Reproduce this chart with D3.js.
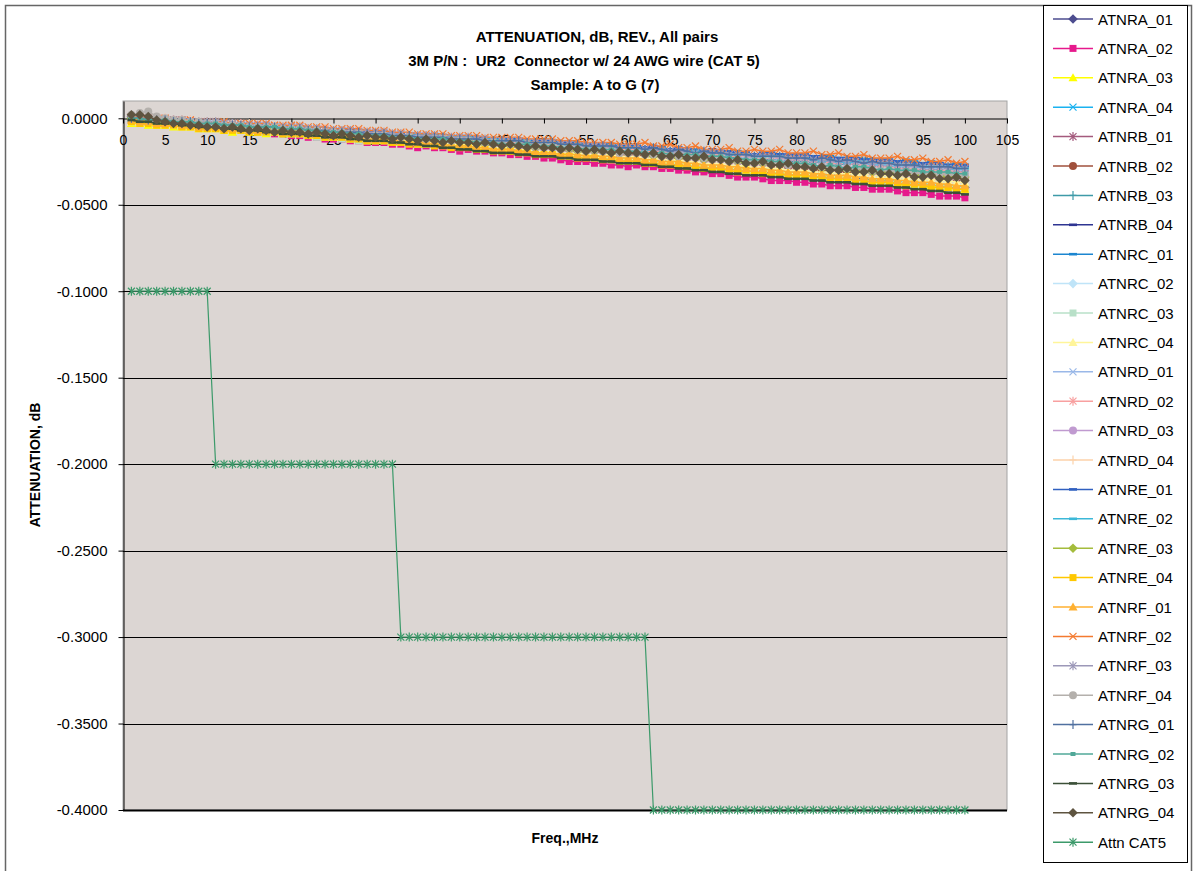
<!DOCTYPE html>
<html lang="en">
<head>
<meta charset="utf-8">
<title>ATTENUATION, dB, REV., All pairs</title>
<script src="https://cdn.jsdelivr.net/npm/d3@7"></script>
<style>
  body { margin: 0; background: #fff; }
  svg text { font-family: "Liberation Sans", Arial, sans-serif; fill: #000; }
</style>
</head>
<body>
<div class="chart"></div>
<script>
// frequency points, MHz
var freqMHz = [
  1,2,3,4,5,6,7,8,9,10,
  11,12,13,14,15,16,17,18,19,20,
  21,22,23,24,25,26,27,28,29,30,
  31,32,33,34,35,36,37,38,39,40,
  41,42,43,44,45,46,47,48,49,50,
  51,52,53,54,55,56,57,58,59,60,
  61,62,63,64,65,66,67,68,69,70,
  71,72,73,74,75,76,77,78,79,80,
  81,82,83,84,85,86,87,88,89,90,
  91,92,93,94,95,96,97,98,99,100];

// attenuation readings, in 0.001 dB
var ATNRA_01 = [
  1,0,-1,-2,-1,-2,-3,-3,-4,-4,
  -4,-5,-5,-6,-6,-6,-7,-7,-8,-8,
  -8,-9,-9,-10,-10,-10,-11,-11,-12,-12,
  -12,-13,-14,-13,-14,-15,-15,-15,-16,-16,
  -16,-17,-17,-18,-18,-18,-19,-19,-20,-20,
  -20,-21,-21,-22,-22,-22,-23,-23,-24,-24,
  -24,-25,-26,-25,-26,-27,-27,-27,-28,-29,
  -28,-29,-29,-30,-30,-30,-31,-31,-32,-32,
  -32,-33,-34,-33,-34,-35,-35,-35,-36,-37,
  -36,-37,-38,-37,-38,-39,-39,-39,-40,-40];
var ATNRA_02 = [
  -1,-2,-2,-3,-3,-3,-4,-4,-5,-5,
  -5,-6,-6,-7,-7,-8,-8,-9,-9,-10,
  -10,-11,-11,-12,-12,-12,-13,-13,-14,-14,
  -14,-15,-15,-16,-17,-16,-17,-17,-18,-19,
  -18,-19,-19,-20,-20,-21,-21,-22,-22,-23,
  -23,-24,-25,-25,-25,-26,-26,-27,-27,-28,
  -27,-28,-28,-29,-29,-30,-30,-31,-31,-32,
  -32,-33,-34,-34,-34,-35,-36,-36,-36,-37,
  -37,-38,-38,-39,-39,-39,-40,-40,-41,-41,
  -41,-42,-43,-43,-43,-44,-45,-45,-45,-46];
var ATNRA_03 = [
  -3,-3,-4,-4,-4,-5,-5,-5,-6,-6,
  -6,-7,-8,-7,-8,-8,-9,-8,-9,-9,
  -9,-10,-10,-11,-11,-11,-12,-12,-13,-13,
  -13,-14,-14,-14,-15,-15,-15,-15,-16,-16,
  -16,-17,-18,-18,-18,-19,-19,-19,-20,-21,
  -20,-21,-21,-22,-22,-22,-23,-23,-24,-24,
  -24,-25,-26,-26,-26,-27,-27,-28,-28,-28,
  -28,-29,-29,-30,-30,-30,-31,-31,-32,-32,
  -32,-33,-34,-34,-34,-35,-36,-36,-36,-37,
  -37,-38,-38,-39,-39,-39,-40,-40,-41,-41];
var ATNRA_04 = [
  0,0,-1,-1,-1,-2,-2,-2,-3,-3,
  -3,-4,-4,-4,-5,-5,-5,-5,-6,-6,
  -6,-7,-8,-7,-8,-8,-9,-8,-9,-9,
  -9,-10,-10,-10,-11,-11,-11,-11,-12,-12,
  -12,-13,-13,-13,-14,-14,-14,-14,-15,-15,
  -15,-16,-15,-16,-17,-17,-18,-17,-18,-18,
  -18,-19,-19,-19,-20,-20,-20,-20,-21,-21,
  -21,-22,-22,-22,-23,-23,-23,-23,-24,-24,
  -24,-25,-24,-25,-26,-26,-27,-26,-27,-27,
  -27,-28,-27,-28,-29,-29,-30,-29,-30,-30];
var ATNRB_01 = [
  1,0,0,-1,-1,-1,-2,-2,-3,-3,
  -3,-4,-4,-4,-5,-5,-5,-5,-6,-6,
  -6,-7,-7,-8,-8,-8,-9,-9,-10,-10,
  -10,-10,-11,-12,-11,-12,-12,-13,-13,-13,
  -13,-14,-14,-14,-15,-15,-15,-15,-16,-16,
  -16,-17,-17,-17,-18,-18,-18,-18,-19,-19,
  -19,-20,-21,-20,-20,-21,-22,-21,-22,-22,
  -22,-23,-23,-24,-24,-24,-25,-25,-26,-26,
  -26,-27,-27,-27,-28,-28,-28,-28,-29,-29,
  -29,-29,-30,-31,-30,-31,-32,-31,-32,-32];
var ATNRB_02 = [
  0,-1,-1,-2,-2,-2,-3,-3,-4,-4,
  -4,-5,-5,-5,-6,-6,-6,-6,-7,-7,
  -7,-8,-8,-9,-9,-9,-10,-10,-11,-11,
  -11,-12,-12,-12,-13,-13,-13,-13,-14,-14,
  -14,-15,-16,-15,-16,-16,-17,-16,-17,-17,
  -17,-18,-18,-19,-19,-19,-20,-20,-21,-21,
  -21,-22,-22,-22,-23,-23,-23,-23,-24,-24,
  -24,-25,-25,-26,-26,-26,-27,-27,-28,-28,
  -28,-29,-30,-29,-30,-31,-30,-30,-31,-31,
  -31,-32,-32,-33,-33,-33,-34,-34,-35,-35];
var ATNRB_03 = [
  0,0,-1,-1,-1,-2,-2,-2,-3,-3,
  -3,-4,-3,-4,-5,-5,-4,-5,-6,-6,
  -6,-7,-7,-7,-8,-8,-8,-8,-9,-9,
  -9,-10,-10,-10,-11,-11,-11,-11,-12,-12,
  -12,-13,-13,-13,-14,-14,-14,-14,-15,-15,
  -15,-16,-17,-16,-17,-16,-17,-18,-18,-18,
  -18,-19,-19,-20,-20,-20,-21,-21,-22,-22,
  -22,-23,-23,-23,-24,-24,-24,-24,-25,-25,
  -25,-26,-25,-26,-27,-26,-27,-28,-28,-27,
  -28,-29,-29,-29,-30,-30,-30,-30,-31,-31];
var ATNRB_04 = [
  0,0,-1,-1,-1,-2,-2,-2,-3,-3,
  -3,-4,-4,-4,-5,-5,-5,-5,-6,-6,
  -6,-6,-7,-7,-7,-7,-7,-8,-8,-8,
  -8,-9,-9,-9,-10,-10,-10,-10,-11,-11,
  -11,-12,-12,-12,-13,-13,-13,-13,-14,-14,
  -14,-14,-15,-15,-15,-15,-15,-16,-16,-16,
  -16,-17,-16,-17,-18,-17,-18,-18,-19,-18,
  -19,-20,-20,-20,-21,-21,-21,-21,-22,-22,
  -22,-23,-23,-23,-24,-24,-24,-24,-25,-25,
  -25,-26,-25,-26,-27,-26,-27,-28,-27,-28];
var ATNRC_01 = [
  0,0,-1,-1,-1,-2,-2,-2,-3,-3,
  -3,-3,-4,-4,-4,-4,-4,-5,-5,-5,
  -5,-6,-6,-6,-7,-7,-7,-7,-8,-8,
  -8,-9,-9,-9,-10,-10,-10,-10,-11,-11,
  -11,-11,-12,-12,-12,-12,-12,-13,-13,-13,
  -13,-14,-14,-14,-15,-15,-15,-15,-16,-16,
  -16,-17,-17,-17,-18,-18,-18,-18,-19,-19,
  -19,-20,-19,-20,-21,-20,-20,-21,-22,-21,
  -21,-22,-22,-22,-23,-23,-23,-23,-24,-24,
  -24,-25,-24,-25,-26,-25,-26,-27,-26,-27];
var ATNRC_02 = [
  -1,-1,-2,-2,-2,-3,-3,-3,-4,-4,
  -4,-5,-5,-5,-6,-6,-6,-6,-7,-7,
  -7,-8,-8,-8,-9,-9,-9,-9,-10,-10,
  -10,-11,-11,-11,-12,-12,-12,-12,-13,-13,
  -13,-14,-14,-14,-15,-15,-15,-15,-16,-16,
  -16,-17,-17,-18,-18,-18,-19,-19,-20,-20,
  -20,-21,-21,-21,-22,-22,-22,-22,-23,-23,
  -23,-24,-24,-24,-25,-25,-25,-25,-26,-26,
  -26,-27,-27,-27,-28,-28,-28,-28,-29,-29,
  -29,-30,-30,-31,-31,-31,-32,-32,-33,-33];
var ATNRC_03 = [
  -2,-2,-3,-3,-3,-4,-4,-4,-5,-5,
  -5,-6,-6,-7,-7,-7,-8,-8,-9,-9,
  -9,-10,-11,-11,-11,-12,-12,-13,-13,-13,
  -13,-14,-14,-14,-15,-15,-15,-15,-16,-16,
  -16,-17,-17,-18,-18,-18,-19,-19,-20,-20,
  -20,-21,-22,-22,-22,-23,-23,-24,-24,-24,
  -24,-25,-25,-26,-26,-26,-27,-27,-28,-28,
  -28,-29,-29,-30,-30,-30,-31,-31,-32,-32,
  -32,-33,-34,-34,-34,-35,-35,-36,-36,-37,
  -36,-37,-37,-38,-38,-38,-39,-39,-40,-40];
var ATNRC_04 = [
  -2,-2,-3,-3,-3,-4,-4,-4,-5,-5,
  -5,-6,-6,-6,-7,-7,-7,-7,-8,-8,
  -8,-9,-9,-10,-10,-10,-11,-11,-12,-12,
  -12,-13,-13,-13,-14,-14,-14,-14,-15,-15,
  -15,-16,-16,-17,-17,-17,-18,-18,-19,-19,
  -19,-20,-20,-20,-21,-21,-21,-21,-22,-22,
  -22,-23,-23,-24,-24,-24,-25,-25,-26,-26,
  -26,-27,-27,-28,-28,-28,-29,-29,-30,-30,
  -30,-31,-31,-31,-32,-32,-32,-32,-33,-33,
  -33,-34,-34,-35,-35,-35,-36,-36,-37,-37];
var ATNRD_01 = [
  0,-1,-1,-1,-2,-1,-2,-2,-3,-3,
  -3,-4,-4,-5,-5,-5,-5,-6,-6,-6,
  -6,-7,-7,-8,-8,-8,-8,-9,-9,-9,
  -9,-10,-10,-11,-11,-11,-11,-12,-12,-12,
  -12,-13,-13,-14,-14,-14,-14,-15,-15,-15,
  -15,-16,-16,-17,-17,-17,-17,-18,-18,-18,
  -18,-19,-19,-20,-20,-20,-20,-21,-21,-21,
  -21,-22,-22,-23,-23,-23,-23,-24,-24,-24,
  -24,-25,-25,-26,-26,-26,-26,-27,-27,-27,
  -27,-28,-28,-29,-29,-29,-29,-30,-30,-30];
var ATNRD_02 = [
  1,1,0,0,0,-1,-1,-1,-2,-2,
  -2,-3,-3,-3,-4,-4,-4,-4,-5,-5,
  -5,-6,-6,-6,-7,-7,-7,-7,-8,-8,
  -8,-9,-9,-10,-10,-10,-11,-11,-12,-12,
  -12,-13,-13,-13,-14,-14,-14,-14,-15,-15,
  -15,-16,-16,-16,-17,-17,-17,-17,-18,-18,
  -18,-19,-19,-19,-20,-20,-20,-20,-21,-21,
  -21,-22,-22,-22,-23,-23,-23,-23,-24,-24,
  -24,-25,-25,-26,-26,-26,-27,-27,-28,-28,
  -28,-29,-29,-29,-30,-30,-30,-30,-31,-31];
var ATNRD_03 = [
  0,0,-1,-1,-1,-2,-2,-2,-3,-3,
  -3,-4,-4,-5,-5,-5,-6,-6,-7,-7,
  -7,-8,-8,-8,-9,-9,-9,-9,-10,-10,
  -10,-11,-11,-11,-12,-12,-12,-12,-13,-13,
  -13,-14,-14,-15,-15,-15,-16,-16,-17,-17,
  -17,-18,-18,-18,-19,-19,-19,-19,-20,-20,
  -20,-21,-21,-22,-22,-22,-23,-23,-24,-24,
  -24,-25,-25,-25,-26,-26,-26,-26,-27,-27,
  -27,-28,-28,-29,-29,-29,-30,-30,-31,-31,
  -31,-32,-32,-32,-33,-33,-33,-33,-34,-34];
var ATNRD_04 = [
  1,1,0,0,0,-1,-1,-1,-2,-2,
  -2,-2,-3,-4,-3,-4,-5,-4,-5,-5,
  -5,-6,-6,-6,-7,-7,-7,-7,-8,-8,
  -8,-9,-9,-9,-10,-10,-10,-10,-11,-11,
  -11,-12,-12,-12,-13,-13,-13,-13,-14,-14,
  -14,-15,-15,-15,-16,-16,-16,-16,-17,-17,
  -17,-18,-18,-18,-19,-19,-19,-19,-20,-20,
  -20,-20,-21,-22,-21,-22,-23,-22,-23,-23,
  -23,-24,-24,-24,-25,-25,-25,-25,-26,-26,
  -26,-27,-27,-27,-28,-28,-28,-28,-29,-29];
var ATNRE_01 = [
  0,-1,-1,-1,-2,-2,-2,-2,-3,-3,
  -3,-3,-4,-4,-4,-5,-4,-5,-5,-5,
  -5,-6,-6,-7,-7,-7,-7,-8,-8,-8,
  -8,-9,-9,-10,-10,-10,-10,-11,-11,-11,
  -11,-11,-12,-12,-13,-12,-12,-13,-13,-13,
  -13,-14,-14,-15,-15,-15,-15,-16,-16,-16,
  -16,-17,-17,-18,-18,-18,-18,-19,-19,-19,
  -19,-19,-20,-20,-21,-20,-20,-21,-21,-21,
  -21,-22,-22,-23,-23,-23,-23,-24,-24,-24,
  -24,-25,-25,-26,-26,-26,-26,-27,-27,-27];
var ATNRE_02 = [
  0,0,-1,-1,-1,-2,-2,-2,-3,-3,
  -3,-4,-4,-4,-5,-5,-5,-5,-6,-6,
  -6,-7,-7,-7,-8,-8,-8,-8,-9,-9,
  -9,-9,-10,-10,-10,-10,-10,-11,-11,-11,
  -11,-12,-12,-12,-13,-13,-13,-13,-14,-14,
  -14,-15,-16,-15,-16,-17,-16,-16,-17,-17,
  -17,-18,-18,-18,-19,-19,-19,-19,-20,-20,
  -20,-21,-21,-21,-22,-22,-22,-22,-23,-23,
  -23,-24,-25,-24,-25,-26,-25,-25,-26,-26,
  -26,-27,-27,-27,-28,-28,-28,-28,-29,-29];
var ATNRE_03 = [
  0,-1,-1,-1,-2,-2,-2,-3,-3,-3,
  -3,-4,-5,-5,-5,-6,-6,-6,-7,-7,
  -7,-8,-8,-9,-9,-9,-9,-10,-10,-10,
  -10,-11,-11,-12,-12,-12,-12,-13,-13,-13,
  -13,-14,-15,-15,-15,-16,-16,-16,-17,-17,
  -17,-18,-18,-19,-19,-19,-19,-20,-20,-20,
  -20,-21,-22,-22,-22,-23,-23,-23,-24,-24,
  -24,-25,-25,-26,-26,-26,-26,-27,-27,-27,
  -27,-28,-29,-29,-29,-30,-30,-30,-31,-31,
  -31,-32,-32,-33,-33,-33,-33,-34,-34,-34];
var ATNRE_04 = [
  -2,-3,-3,-4,-4,-4,-5,-5,-6,-6,
  -6,-7,-7,-7,-8,-8,-8,-8,-9,-9,
  -9,-10,-10,-11,-11,-11,-12,-12,-13,-13,
  -13,-14,-14,-15,-15,-15,-16,-16,-17,-17,
  -17,-18,-18,-19,-19,-19,-20,-20,-21,-21,
  -21,-22,-22,-23,-23,-23,-24,-24,-25,-25,
  -25,-26,-26,-27,-27,-27,-28,-28,-29,-29,
  -29,-30,-31,-30,-31,-32,-32,-32,-33,-33,
  -33,-34,-34,-35,-35,-35,-36,-36,-37,-37,
  -37,-38,-39,-38,-39,-40,-40,-40,-41,-41];
var ATNRF_01 = [
  -1,-2,-2,-3,-3,-3,-4,-4,-5,-5,
  -5,-6,-6,-6,-7,-7,-7,-7,-8,-8,
  -8,-9,-9,-10,-10,-10,-11,-11,-12,-12,
  -12,-13,-13,-14,-14,-14,-15,-15,-16,-16,
  -16,-17,-17,-18,-18,-18,-19,-19,-20,-20,
  -20,-21,-21,-21,-22,-22,-22,-22,-23,-23,
  -23,-24,-24,-25,-25,-25,-26,-26,-27,-27,
  -27,-28,-28,-29,-29,-29,-30,-30,-31,-31,
  -31,-32,-32,-33,-33,-33,-34,-34,-35,-35,
  -35,-36,-36,-37,-37,-37,-38,-38,-39,-39];
var ATNRF_02 = [
  1,1,0,0,0,-1,-1,-1,-2,-2,
  -2,-2,-3,-3,-3,-3,-3,-4,-4,-4,
  -4,-5,-5,-5,-6,-6,-6,-6,-7,-7,
  -7,-8,-8,-8,-9,-9,-9,-9,-10,-10,
  -10,-10,-11,-11,-11,-11,-11,-12,-12,-12,
  -12,-13,-13,-13,-14,-14,-14,-14,-15,-15,
  -15,-14,-16,-16,-15,-17,-17,-16,-18,-18,
  -18,-17,-19,-19,-18,-19,-19,-18,-20,-20,
  -20,-19,-21,-21,-20,-22,-22,-21,-23,-23,
  -23,-22,-24,-24,-23,-25,-25,-24,-26,-25];
var ATNRF_03 = [
  1,0,0,0,-1,-1,-1,-2,-2,-2,
  -2,-3,-3,-4,-4,-4,-4,-5,-5,-5,
  -5,-6,-6,-7,-7,-7,-7,-8,-8,-8,
  -8,-9,-9,-10,-10,-10,-10,-11,-11,-11,
  -11,-12,-12,-13,-13,-13,-13,-14,-14,-14,
  -14,-15,-15,-16,-16,-16,-16,-17,-17,-17,
  -17,-18,-18,-19,-19,-19,-19,-20,-20,-20,
  -20,-21,-21,-22,-22,-22,-22,-23,-23,-23,
  -23,-24,-24,-25,-25,-25,-25,-26,-26,-26,
  -26,-27,-27,-28,-28,-28,-28,-29,-29,-29];
var ATNRF_04 = [
  2,3,4,1,0,-1,-1,-2,-2,-3,
  -3,-4,-4,-4,-5,-5,-5,-5,-6,-6,
  -6,-7,-7,-8,-8,-8,-9,-9,-10,-10,
  -10,-11,-11,-11,-12,-12,-12,-12,-13,-13,
  -13,-14,-14,-14,-15,-15,-15,-15,-16,-16,
  -16,-17,-17,-18,-18,-18,-19,-19,-20,-20,
  -20,-21,-21,-21,-22,-22,-22,-22,-23,-23,
  -23,-24,-24,-25,-25,-25,-26,-26,-27,-27,
  -27,-28,-28,-28,-29,-29,-29,-29,-30,-30,
  -30,-31,-31,-31,-32,-32,-32,-32,-33,-33];
var ATNRG_01 = [
  0,0,-1,-1,-1,-2,-2,-2,-3,-3,
  -3,-4,-4,-4,-5,-5,-5,-5,-6,-6,
  -6,-7,-7,-7,-8,-8,-8,-8,-9,-9,
  -9,-10,-10,-10,-11,-11,-11,-11,-12,-12,
  -12,-12,-13,-13,-13,-13,-13,-14,-14,-14,
  -14,-15,-15,-15,-16,-16,-16,-16,-17,-17,
  -17,-18,-17,-18,-19,-18,-19,-20,-19,-20,
  -20,-21,-21,-21,-22,-22,-22,-22,-23,-23,
  -23,-24,-23,-24,-25,-24,-25,-26,-25,-26,
  -26,-27,-27,-27,-28,-28,-28,-28,-29,-29];
var ATNRG_02 = [
  0,0,-1,-1,-1,-2,-2,-2,-3,-3,
  -3,-4,-4,-4,-5,-5,-5,-5,-6,-6,
  -6,-7,-7,-8,-8,-8,-9,-9,-10,-10,
  -10,-11,-11,-11,-12,-12,-12,-12,-13,-13,
  -13,-14,-14,-14,-15,-15,-15,-15,-16,-16,
  -16,-17,-17,-17,-18,-18,-18,-18,-19,-19,
  -19,-20,-20,-20,-21,-21,-21,-21,-22,-22,
  -22,-23,-23,-24,-24,-24,-25,-25,-26,-26,
  -26,-27,-28,-27,-28,-29,-28,-28,-29,-30,
  -29,-30,-30,-30,-31,-31,-31,-31,-32,-32];
var ATNRG_03 = [
  -1,-2,-2,-3,-3,-3,-4,-4,-5,-5,
  -5,-6,-6,-7,-7,-7,-8,-8,-9,-9,
  -9,-10,-10,-11,-11,-11,-12,-12,-13,-13,
  -13,-14,-14,-15,-15,-16,-16,-17,-17,-18,
  -18,-19,-19,-20,-20,-20,-21,-21,-22,-22,
  -22,-23,-23,-24,-24,-24,-25,-25,-26,-26,
  -26,-27,-27,-28,-28,-29,-29,-30,-30,-31,
  -31,-32,-32,-33,-33,-33,-34,-34,-35,-35,
  -35,-36,-36,-37,-37,-37,-38,-38,-39,-39,
  -39,-40,-40,-41,-41,-42,-42,-43,-43,-44];
var ATNRG_04 = [
  2,2,1,-1,-2,-3,-3,-4,-4,-5,
  -5,-6,-5,-6,-7,-6,-7,-8,-7,-8,
  -8,-9,-8,-9,-10,-9,-10,-11,-10,-11,
  -11,-12,-11,-12,-13,-12,-13,-14,-13,-14,
  -14,-15,-14,-15,-16,-15,-16,-17,-16,-17,
  -17,-18,-17,-18,-19,-18,-19,-20,-19,-20,
  -20,-21,-20,-22,-22,-21,-23,-23,-22,-24,
  -24,-25,-24,-26,-26,-25,-27,-27,-26,-28,
  -28,-29,-28,-30,-30,-29,-31,-31,-30,-32,
  -32,-33,-32,-34,-34,-33,-35,-35,-34,-36];
// CAT 5 limit, in 0.001 dB
var attnCAT5 = [
  -100,-100,-100,-100,-100,-100,-100,-100,-100,-100,
  -200,-200,-200,-200,-200,-200,-200,-200,-200,-200,
  -200,-200,-200,-200,-200,-200,-200,-200,-200,-200,
  -200,-200,-300,-300,-300,-300,-300,-300,-300,-300,
  -300,-300,-300,-300,-300,-300,-300,-300,-300,-300,
  -300,-300,-300,-300,-300,-300,-300,-300,-300,-300,
  -300,-300,-400,-400,-400,-400,-400,-400,-400,-400,
  -400,-400,-400,-400,-400,-400,-400,-400,-400,-400,
  -400,-400,-400,-400,-400,-400,-400,-400,-400,-400,
  -400,-400,-400,-400,-400,-400,-400,-400,-400,-400];

var seriesNames = ["ATNRA_01","ATNRA_02","ATNRA_03","ATNRA_04","ATNRB_01","ATNRB_02","ATNRB_03","ATNRB_04",
                   "ATNRC_01","ATNRC_02","ATNRC_03","ATNRC_04","ATNRD_01","ATNRD_02","ATNRD_03","ATNRD_04",
                   "ATNRE_01","ATNRE_02","ATNRE_03","ATNRE_04","ATNRF_01","ATNRF_02","ATNRF_03","ATNRF_04",
                   "ATNRG_01","ATNRG_02","ATNRG_03","ATNRG_04","Attn CAT5"];
var seriesValues = [ATNRA_01, ATNRA_02, ATNRA_03, ATNRA_04, ATNRB_01, ATNRB_02, ATNRB_03, ATNRB_04,
                    ATNRC_01, ATNRC_02, ATNRC_03, ATNRC_04, ATNRD_01, ATNRD_02, ATNRD_03, ATNRD_04,
                    ATNRE_01, ATNRE_02, ATNRE_03, ATNRE_04, ATNRF_01, ATNRF_02, ATNRF_03, ATNRF_04,
                    ATNRG_01, ATNRG_02, ATNRG_03, ATNRG_04, attnCAT5];
var seriesColors = ["#4d4d8f","#e6198c","#ffff00","#1ab2f0","#a45a7d","#a0503c","#3e9aa8","#2e3592",
                    "#1c86d0","#bfe4f8","#b8e0c8","#fff59a","#9ab8e8","#f8a0a0","#c09ad0","#fcd2aa",
                    "#3060c0","#3cb8d8","#a4bc3c","#ffc800","#ffb030","#f47a30","#9c98b8","#b4b0ac",
                    "#5070a0","#50a898","#3c5038","#5e5440","#3c9a6a"];
var seriesMarkers = ["diamond","square","triangle","x","star","circle","plus","dash",
                     "dash","diamond","square","triangle","x","star","circle","plus",
                     "dash","dash","diamond","square","triangle","x","star","circle",
                     "plus","smallsquare","dash","diamond","star"];

var xTicks = [0,5,10,15,20,25,30,35,40,45,50,55,60,65,70,75,80,85,90,95,100,105];
var yTicks = [0, -0.05, -0.1, -0.15, -0.2, -0.25, -0.3, -0.35, -0.4];

// drawing
var w = 1194, h = 871;
var svg = d3.select("div.chart").append("svg")
            .attr("width", w)
            .attr("height", h);

// outer chart frame
svg.append("rect")
   .attr("x", 5.5).attr("y", 5.5)
   .attr("width", 1186).attr("height", 880)
   .attr("fill", "#fff").attr("stroke", "#666").attr("stroke-width", 1.5);

// plot area
var pLeft = 123, pRight = 1007, pTop = 101, pBottom = 810;
var xScale = d3.scaleLinear().domain([0, 105]).range([pLeft, pRight]);
var yScale = d3.scaleLinear().domain([-0.4, 0.01]).range([pBottom, pTop]);

svg.append("rect")
   .attr("x", pLeft).attr("y", pTop)
   .attr("width", pRight - pLeft).attr("height", pBottom - pTop)
   .attr("fill", "#dcd6d3").attr("stroke", "#a4a4a4");

// gridlines
svg.append("g").selectAll("line")
   .data(yTicks.filter(function(d){ return d !== 0; }))
   .enter().append("line")
   .attr("x1", pLeft).attr("x2", pRight)
   .attr("y1", function(d){ return Math.round(yScale(d)) + 0.5; })
   .attr("y2", function(d){ return Math.round(yScale(d)) + 0.5; })
   .attr("stroke", "#000")
   .attr("stroke-width", function(d){ return d === -0.4 ? 2 : 1; });

// axes
var xAxis = d3.axisBottom(xScale).tickValues(xTicks)
              .tickSizeInner(5).tickSizeOuter(0).tickPadding(12);
var yAxis = d3.axisLeft(yScale).tickValues(yTicks)
              .tickFormat(function(d){ return d.toFixed(4); })
              .tickSizeInner(5).tickSizeOuter(0).tickPadding(11);

var gx = svg.append("g")
   .attr("transform", "translate(0," + (Math.round(yScale(0)) + 0.5) + ")")
   .call(xAxis);
var gy = svg.append("g")
   .attr("transform", "translate(" + (pLeft + 0.5) + ",0)")
   .call(yAxis);
[gx, gy].forEach(function(g){
    g.attr("font-family", null).attr("font-size", null);
    g.selectAll("path, line").attr("stroke", "#000");
});
gx.selectAll("text").style("font-size", "14px");
gy.selectAll("text").style("font-size", "15px");

// marker shapes
function markerPath(type) {
    switch (type) {
        case "diamond": return "M0,-4.8L4.8,0L0,4.8L-4.8,0Z";
        case "square": return "M-3.5,-3.5H3.5V3.5H-3.5Z";
        case "smallsquare": return "M-2.5,-2H2.5V2H-2.5Z";
        case "triangle": return "M0,-4.5L4.5,3.5H-4.5Z";
        case "x": return "M-3.5,-3.5L3.5,3.5M-3.5,3.5L3.5,-3.5";
        case "star": return "M-3.5,-3.5L3.5,3.5M-3.5,3.5L3.5,-3.5M0,-4.5V4.5";
        case "circle": return "M4,0A4,4 0 1,1 -4,0A4,4 0 1,1 4,0Z";
        case "plus": return "M0,-4.5V4.5M-3.5,0H3.5";
        case "dash": return "M-4,-1.3H4V1.3H-4Z";
    }
}
function isOpen(type) { return type === "x" || type === "star" || type === "plus"; }

function drawMarker(g, type, color) {
    g.attr("d", markerPath(type))
     .attr("fill", isOpen(type) ? "none" : color)
     .attr("stroke", isOpen(type) ? color : "none")
     .attr("stroke-width", 1.2);
}

// series
var line = d3.line()
             .x(function(d, i){ return xScale(freqMHz[i]); })
             .y(function(d){ return yScale(d / 1000); });

seriesValues.forEach(function(vals, s){
    var color = seriesColors[s];
    var g = svg.append("g").attr("class", "series");
    g.append("path")
     .datum(vals)
     .attr("d", line)
     .attr("fill", "none")
     .attr("stroke", color)
     .attr("stroke-width", s === 28 ? 1.2 : 1.5);
    g.selectAll("path.m")
     .data(vals)
     .enter().append("path")
     .attr("class", "m")
     .attr("transform", function(d, i){ return "translate(" + xScale(freqMHz[i]) + "," + yScale(d / 1000) + ")"; })
     .call(drawMarker, seriesMarkers[s], color);
});

// titles (non-breaking spaces keep the double gaps of the original)
var title = svg.append("g").attr("font-weight", "bold").attr("font-size", "15px")
               .attr("text-anchor", "middle");
title.append("text").attr("x", 597).attr("y", 42).text("ATTENUATION, dB, REV., All pairs");
title.append("text").attr("x", 584).attr("y", 66).text("3M P/N :\u00a0\u00a0UR2\u00a0\u00a0Connector w/ 24 AWG wire (CAT 5)");
title.append("text").attr("x", 595).attr("y", 90).text("Sample: A to G (7)");

svg.append("text")
   .attr("transform", "translate(40,465) rotate(-90)")
   .attr("text-anchor", "middle").attr("font-weight", "bold").attr("font-size", "14px")
   .text("ATTENUATION, dB");
svg.append("text")
   .attr("x", (pLeft + pRight) / 2).attr("y", 843)
   .attr("text-anchor", "middle").attr("font-weight", "bold").attr("font-size", "14px")
   .text("Freq.,MHz");

// legend
svg.append("rect")
   .attr("x", 1043.5).attr("y", 5.5)
   .attr("width", 144).attr("height", 857)
   .attr("fill", "#fff").attr("stroke", "#000");

var legend = svg.append("g").selectAll("g")
   .data(seriesNames)
   .enter().append("g")
   .attr("transform", function(d, i){ return "translate(0," + (19 + i * 29.4) + ")"; });
legend.append("line")
   .attr("x1", 1053).attr("x2", 1093)
   .attr("stroke", function(d, i){ return seriesColors[i]; })
   .attr("stroke-width", 1.5);
legend.append("path")
   .attr("transform", "translate(1073,0)")
   .each(function(d, i){ d3.select(this).call(drawMarker, seriesMarkers[i], seriesColors[i]); });
legend.append("text")
   .attr("x", 1098).attr("y", 5.5)
   .attr("font-size", "15px")
   .text(function(d){ return d; });
</script>
</body>
</html>
